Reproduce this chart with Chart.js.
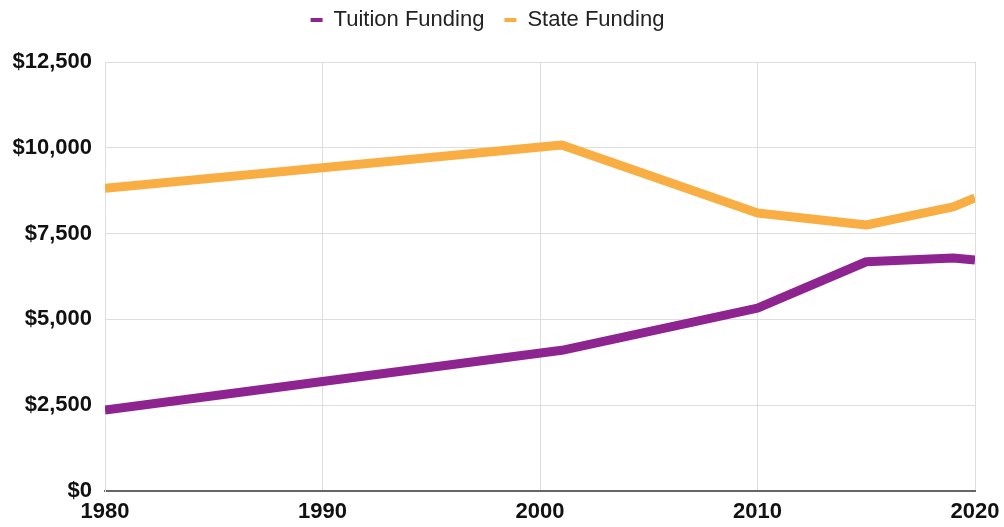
<!DOCTYPE html>
<html>
<head>
<meta charset="utf-8">
<script src="https://cdn.jsdelivr.net/npm/chart.js@4/dist/chart.umd.min.js"></script>
<style>
  html, body { margin: 0; padding: 0; background: #ffffff; }
  #wrap { width: 1004px; height: 527px; position: relative; }
</style>
</head>
<body>
<div id="wrap"><canvas id="c" width="1004" height="527"></canvas></div>
<script>
const years = [1980, 1990, 2001, 2010, 2015, 2019, 2020];
const tuitionFunding = [2360, 3190, 4100, 5330, 6680, 6790, 6730];
const stateFunding = [8820, 9420, 10080, 8100, 7750, 8280, 8540];
const seriesNames = ['Tuition Funding', 'State Funding'];
const xTicks = [1980, 1990, 2000, 2010, 2020];
const yTicks = [0, 2500, 5000, 7500, 10000, 12500];

const FONT = "'Liberation Sans', Arial, Helvetica, sans-serif";

const legendTweak = {
  id: 'legendTweak',
  afterInit(chart) {
    const lg = chart.legend;
    if (!lg) return;
    const fit = lg.fit.bind(lg);
    lg.fit = function () { fit(); this.height = 62; };
    const draw = lg.draw.bind(lg);
    lg.draw = function (area) {
      const t = this.top;
      this.top = t - 11;
      draw(area);
      this.top = t;
    };
  }
};

new Chart(document.getElementById('c'), {
  type: 'line',
  data: {
    datasets: [
      {
        label: seriesNames[0],
        data: years.map((y, i) => ({ x: y, y: tuitionFunding[i] })),
        borderColor: '#8E248F',
        backgroundColor: '#8E248F',
        borderWidth: 9,
        pointRadius: 0,
        tension: 0,
        borderJoinStyle: 'round',
        clip: 0
      },
      {
        label: seriesNames[1],
        data: years.map((y, i) => ({ x: y, y: stateFunding[i] })),
        borderColor: '#F8AE42',
        backgroundColor: '#F8AE42',
        borderWidth: 9,
        pointRadius: 0,
        tension: 0,
        borderJoinStyle: 'round',
        clip: 0
      }
    ]
  },
  plugins: [legendTweak],
  options: {
    responsive: false,
    animation: false,
    layout: { padding: { left: 0, right: 29, top: 0, bottom: 0 } },
    plugins: {
      tooltip: { enabled: false },
      legend: {
        position: 'top',
        align: 'center',
        labels: {
          boxWidth: 12,
          boxHeight: 4,
          padding: 20,
          color: '#222222',
          font: { family: FONT, size: 22 },
          generateLabels(chart) {
            return Chart.defaults.plugins.legend.labels.generateLabels(chart).map(l => {
              l.fillStyle = l.strokeStyle;
              l.lineWidth = 0;
              return l;
            });
          }
        }
      }
    },
    scales: {
      x: {
        type: 'linear',
        min: xTicks[0],
        max: xTicks[xTicks.length - 1],
        afterBuildTicks(scale) { scale.ticks = xTicks.map(v => ({ value: v })); },
        afterFit(scale) { scale.height = 36; scale.paddingRight = 0; scale.paddingLeft = 0; },
        ticks: {
          color: '#111111',
          padding: 8,
          maxRotation: 0,
          font: { family: FONT, size: 22, weight: 'bold' },
          callback: v => String(v)
        },
        grid: { color: '#dedede', lineWidth: 1, drawTicks: false },
        border: { color: '#666666', width: 2 }
      },
      y: {
        min: yTicks[0],
        max: yTicks[yTicks.length - 1],
        afterBuildTicks(scale) { scale.ticks = yTicks.map(v => ({ value: v })); },
        afterFit(scale) { scale.width = 105; scale.paddingTop = 0; scale.paddingBottom = 0; },
        ticks: {
          color: '#111111',
          padding: 13,
          font: { family: FONT, size: 22, weight: 'bold' },
          callback: v => '$' + Number(v).toLocaleString('en-US')
        },
        grid: {
          color: ctx => (ctx.tick && ctx.tick.value === 0) ? 'rgba(0,0,0,0)' : '#dedede',
          lineWidth: 1,
          drawTicks: false
        },
        border: { color: '#dedede', width: 1 }
      }
    }
  }
});
</script>
</body>
</html>
